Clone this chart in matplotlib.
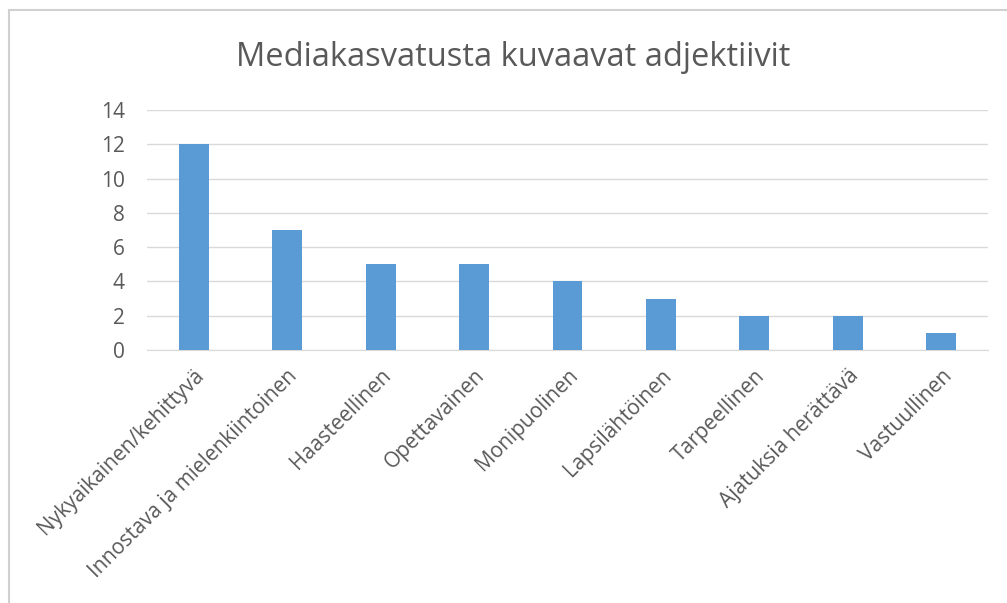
import numpy as np
import matplotlib.pyplot as plt
from matplotlib.patches import Rectangle

# data
adjectives = ['Nykyaikainen/kehittyvä', 'Innostava ja mielenkiintoinen', 'Haasteellinen',
              'Opettavainen', 'Monipuolinen', 'Lapsilähtöinen', 'Tarpeellinen',
              'Ajatuksia herättävä', 'Vastuullinen']
counts = [12, 7, 5, 5, 4, 3, 2, 2, 1]
yticks = [0, 2, 4, 6, 8, 10, 12, 14]

textGray = '#595959'
gridGray = '#d9d9d9'
barBlue = '#5b9bd5'

plt.rcParams['font.family'] = ['Open Sans', 'DejaVu Sans']

W, H = 1007, 603
fig = plt.figure(figsize=(W/100, H/100), dpi=100)
fig.patches.append(Rectangle((9/W, -0.1), 1.1, 1 - 10/H + 0.1, transform=fig.transFigure,
                             fill=False, edgecolor='#d0d0d0', linewidth=1.5))

ax = fig.add_axes([147/W, 1 - 350/H, (988-147)/W, 240/H])
x = np.arange(len(counts))
ax.bar(x, counts, width=0.32, color=barBlue, zorder=3)
ax.set_xlim(-0.5, len(counts) - 0.5)
ax.set_ylim(0, 14)
ax.set_yticks(yticks)
ax.yaxis.grid(True, color=gridGray, linewidth=1)
ax.set_axisbelow(True)
for s in ['top', 'right', 'left']:
    ax.spines[s].set_visible(False)
ax.spines['bottom'].set_color(gridGray)
ax.tick_params(axis='y', length=0, pad=16, labelsize=15, labelcolor=textGray)
ax.tick_params(axis='x', length=0, pad=11, labelsize=15, labelcolor=textGray)
ax.set_xticks(x)
ax.set_xticklabels(adjectives, rotation=45, ha='right', va='top', rotation_mode='anchor')

fig.text(513/W, 1 - 58/H, 'Mediakasvatusta kuvaavat adjektiivit', ha='center', va='center',
         fontsize=23.5, color=textGray)

fig.savefig('out.png', dpi=100)
